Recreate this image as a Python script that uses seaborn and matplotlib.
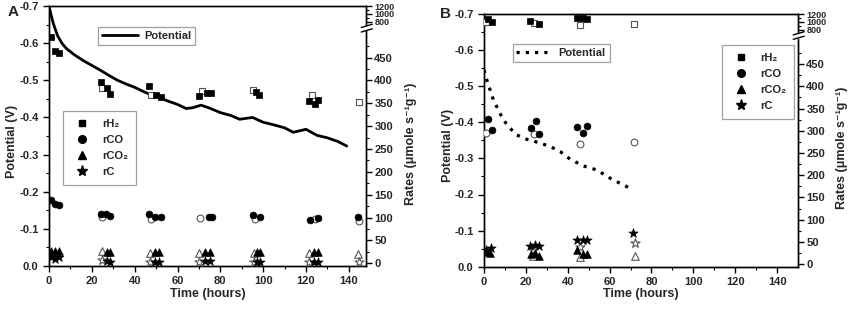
import numpy as np
import pandas as pd
import matplotlib
matplotlib.use("Agg")
import matplotlib.pyplot as plt
from matplotlib.lines import Line2D
import seaborn as sns

sns.set_theme(style="ticks")
plt.rcParams['font.family'] = ['Liberation Sans', 'DejaVu Sans']
plt.rcParams['font.weight'] = 'bold'
plt.rcParams['axes.labelweight'] = 'bold'
plt.rcParams['axes.unicode_minus'] = False

# ---------------- data: panel A ----------------
A_pot_t = [0, 1, 2, 4, 6, 8, 12, 16, 20, 24, 28, 32, 36, 40, 44, 48, 52, 56, 60, 64,
           67, 71, 75, 80, 85, 89, 95, 100, 105, 110, 114, 120, 125, 130, 135, 139]
A_pot_v = [-0.70, -0.675, -0.653, -0.62, -0.60, -0.586, -0.568, -0.553, -0.54, -0.527,
           -0.513, -0.50, -0.49, -0.481, -0.47, -0.46, -0.452, -0.443, -0.435, -0.424,
           -0.426, -0.433, -0.425, -0.413, -0.405, -0.395, -0.40, -0.387, -0.38, -0.372,
           -0.36, -0.368, -0.352, -0.345, -0.335, -0.323]

A_h2_t = [0.9, 2.8, 4.7, 24.3, 26.9, 28.5, 46.8, 49.8, 52.1, 70.1, 73.6, 75.6, 96.5, 98.1, 121.5, 124.1, 125.7]
A_h2_r = [496, 465, 460, 396, 384, 371, 387, 368, 363, 367, 372, 372, 374, 369, 355, 349, 358]
A_h2o_t = [24.6, 47.5, 71.3, 95.3, 122.6, 144.5]
A_h2o_r = [384, 368, 376, 379, 368, 352]

A_co_t = [0.9, 2.8, 4.7, 24.3, 26.6, 28.5, 46.8, 49.5, 52.1, 74.8, 76.2, 95.3, 98.5, 121.8, 125.7, 144.3]
A_co_r = [139, 130, 127, 108, 108, 103, 108, 101, 101, 101, 101, 106, 101, 95, 99, 101]
A_coo_t = [24.6, 47.5, 70.5, 96.1, 124.1, 144.7]
A_coo_r = [101, 96, 98, 96, 97.5, 92]

A_co2_t = [0.9, 2.8, 4.7, 27.0, 28.6, 49.5, 51.4, 72.8, 75.1, 97.2, 98.6, 123.5, 125.6]
A_co2_r = [26, 26, 27, 25, 25, 25, 25, 25, 25, 25, 25, 24, 24]
A_co2o_t = [24.6, 47.1, 70.2, 95.8, 121.3, 144.4]
A_co2o_r = [26, 22, 22, 22, 22, 21]

A_c_t = [0.9, 2.8, 4.7, 27.0, 28.5, 49.5, 51.4, 72.8, 75.1, 97.2, 98.6, 123.5, 125.6]
A_c_r = [14, 10, 13, 4, 3, 3, 3, 4, 4, 3, 3, 3, 2]
A_co_t_open_star = [24.6, 47.1, 70.2, 95.8, 121.5, 144.6]
A_co_r_open_star = [8, 3, 3, 3, 3, 2]

# ---------------- data: panel B ----------------
B_pot_t = [0, 1.3, 2.9, 4.5, 6.8, 9.2, 12.4, 15.6, 20.4, 26, 31.6, 36.4, 41.1, 47.5, 53.9, 60.3, 65, 70.6]
B_pot_v = [-0.545, -0.518, -0.49, -0.462, -0.435, -0.407, -0.384, -0.365, -0.353, -0.344,
           -0.333, -0.319, -0.298, -0.279, -0.268, -0.245, -0.231, -0.215]

B_h2_t = [1.8, 3.8, 22.0, 26.2, 44.6, 47.2, 49.1]
B_h2_r = [1060, 990, 1030, 950, 1100, 1085, 1070]
B_h2o_t = [1.0, 24.0, 45.9, 71.6]
B_h2o_r = [990, 960, 925, 945]

B_co_t = [2.1, 3.7, 22.5, 24.7, 26.4, 44.6, 47.2, 49.4]
B_co_r = [326, 301, 306, 321, 293, 308, 296, 310]
B_coo_t = [0.8, 23.9, 45.9, 71.8]
B_coo_r = [295, 292, 271, 274]

B_co2_t = [1.5, 3.0, 22.6, 24.4, 26.5, 44.6, 47.2, 49.4]
B_co2_r = [27, 24, 23, 24, 18, 32, 23, 23]
B_co2o_t = [23.6, 45.9, 71.9]
B_co2o_r = [18, 16, 18]

B_c_t = [1.0, 3.2, 22.0, 24.4, 26.5, 44.6, 47.2, 49.1, 71.4]
B_c_r = [32, 36, 41, 43, 41, 53, 53, 54, 69]
B_co_t_open_star = [23.6, 45.9, 71.9]
B_co_r_open_star = [32, 39, 47]

legend_labels = ['rH\u2082', 'rCO', 'rCO\u2082', 'rC']
left_ticks = [0.0, -0.1, -0.2, -0.3, -0.4, -0.5, -0.6, -0.7]
right_ticks = [0, 50, 100, 150, 200, 250, 300, 350, 400, 450, 800, 1000, 1200]
x_ticks = [0, 20, 40, 60, 80, 100, 120, 140]

# broken right axis scale
BP_DATA = np.array([-1000.0, 505.0, 800.0, 1200.0, 5000.0])
BP_FWD = np.array([-1000.0, 505.0, 528.0, 563.0, 563.0 + 3800 * 0.0875])
def fwd(y):
    return np.interp(y, BP_DATA, BP_FWD)
def inv(y):
    return np.interp(y, BP_FWD, BP_DATA)

W, H = 851, 309
fig = plt.figure(figsize=(W / 100, H / 100), dpi=100)

def box(l, r, t, b):
    return [l / W, 1 - b / H, (r - l) / W, (b - t) / H]

axA = fig.add_axes(box(49, 366, 6, 266))
axB = fig.add_axes(box(484, 798, 14, 266.7))

SQ, CI, TR, ST = 20, 24, 30, 48

def scatter(ax, t, r, marker, size, filled):
    df = pd.DataFrame({'t': t, 'r': r})
    if filled:
        sns.scatterplot(data=df, x='t', y='r', ax=ax, marker=marker, s=size,
                        color='black', edgecolor='black', linewidth=0.5, legend=False, zorder=4)
    else:
        sns.scatterplot(data=df, x='t', y='r', ax=ax, marker=marker, s=size,
                        facecolor='white', edgecolor='#555555', linewidth=0.8, legend=False, zorder=3)

def setup(ax, pot_t, pot_v, xmax, linestyle, series, pot_leg_anchor, mk_leg_anchor, lx, rx):
    lw = 2.0 if linestyle == '-' else 2.3
    sns.lineplot(x=pot_t, y=pot_v, ax=ax, color='black', linewidth=lw,
                 linestyle=linestyle, legend=False, sort=False)
    ax.set_xlim(0, xmax)
    ax.set_ylim(0, -0.7)
    ax.set_yticks(left_ticks)
    ax.set_yticklabels(['%.1f' % v if v != 0 else '0.0' for v in left_ticks])
    ax.set_yticks(np.arange(-0.05, -0.7, -0.1), minor=True)
    ax.set_xticks(x_ticks)
    ax.set_xticks(np.arange(10, xmax, 20), minor=True)
    ax.set_xlabel('Time (hours)', fontsize=9, fontweight='bold')
    ax.set_ylabel('Potential (V)', fontsize=9, fontweight='bold')
    ax.yaxis.set_label_coords(lx, 0.48)
    ax.xaxis.set_label_coords(0.5, -0.085)
    for s in ax.spines.values():
        s.set_linewidth(1.0)
        s.set_color('black')
    ax.tick_params(which='major', length=4, width=1, labelsize=8, color='black', direction='out')
    ax.tick_params(which='minor', length=2, width=0.8, color='black', direction='out')
    for lab in ax.get_xticklabels() + ax.get_yticklabels():
        lab.set_fontweight('bold')

    ax2 = ax.twinx()
    for (t, r, m, s, f) in series:
        scatter(ax2, t, r, m, s, f)
    ax2.set_yscale('function', functions=(fwd, inv))
    ax2.set_ylim(-6, 1200)
    ax2.set_yticks(right_ticks)
    ax2.set_yticklabels([str(v) for v in right_ticks])
    ax2.set_yticks(list(range(25, 501, 50)) + [900, 1100], minor=True)
    ax2.set_ylabel('Rates (\u03bcmole s\u207b\u00b9g\u207b\u00b9)', fontsize=9, fontweight='bold')
    ax2.yaxis.set_label_coords(rx, 0.47)
    ax2.tick_params(which='major', length=4, width=1, labelsize=8, color='black', direction='out', pad=2)
    ax2.tick_params(which='minor', length=2, width=0.8, color='black', direction='out')
    for lab, v in zip(ax2.get_yticklabels(), right_ticks):
        lab.set_fontweight('bold')
        if v >= 800:
            lab.set_fontsize(6.5)
    for s in ax2.spines.values():
        s.set_linewidth(1.0)
        s.set_color('black')
    tr = ax2.get_yaxis_transform()
    ax2.plot([1.0, 1.0], [590, 665], transform=tr, color='white', lw=2.5, clip_on=False, zorder=5)
    for y0, y1 in [(518, 608), (646, 736)]:
        ax2.plot([0.985, 1.02], [y0, y1], transform=tr, color='black', lw=1.0, clip_on=False, zorder=6)

    leg1 = ax2.legend([Line2D([], [], color='black', lw=lw, ls=linestyle)],
                      ['Potential'], loc='upper left', bbox_to_anchor=pot_leg_anchor,
                      frameon=True, fancybox=False, edgecolor='#888888', fontsize=8,
                      handlelength=3.2, borderpad=0.35, handletextpad=0.6, borderaxespad=0)
    leg1.get_frame().set_linewidth(0.9)
    for tx in leg1.get_texts():
        tx.set_fontweight('bold')
    ax2.add_artist(leg1)
    hs = [Line2D([], [], marker=m, color='black', ls='', markersize=ms)
          for m, ms in [('s', 5), ('o', 5.5), ('^', 6), ('*', 8)]]
    leg2 = ax2.legend(hs, legend_labels, loc='upper left', bbox_to_anchor=mk_leg_anchor,
                      frameon=True, fancybox=False, edgecolor='#888888', fontsize=8,
                      handlelength=2.0, borderpad=0.7, handletextpad=0.8, labelspacing=0.55,
                      borderaxespad=0)
    leg2.get_frame().set_linewidth(0.9)
    for tx in leg2.get_texts():
        tx.set_fontweight('bold')
    return ax2

seriesA = [
    (A_h2o_t, A_h2o_r, 's', SQ, False), (A_coo_t, A_coo_r, 'o', CI, False),
    (A_co2o_t, A_co2o_r, '^', TR, False), (A_co_t_open_star, A_co_r_open_star, '*', ST, False),
    (A_h2_t, A_h2_r, 's', SQ, True), (A_co_t, A_co_r, 'o', CI, True),
    (A_co2_t, A_co2_r, '^', TR, True), (A_c_t, A_c_r, '*', ST, True),
]
seriesB = [
    (B_h2o_t, B_h2o_r, 's', SQ, False), (B_coo_t, B_coo_r, 'o', CI, False),
    (B_co2o_t, B_co2o_r, '^', TR, False), (B_co_t_open_star, B_co_r_open_star, '*', ST, False),
    (B_h2_t, B_h2_r, 's', SQ, True), (B_co_t, B_co_r, 'o', CI, True),
    (B_co2_t, B_co2_r, '^', TR, True), (B_c_t, B_c_r, '*', ST, True),
]

setup(axA, A_pot_t, A_pot_v, 148, '-', seriesA, (0.155, 0.92), (0.044, 0.596), -0.098, 1.122)
setup(axB, B_pot_t, B_pot_v, 150, (0, (1, 1.9)), seriesB, (0.091, 0.881), (0.757, 0.878), -0.096, 1.12)

fig.text(8 / W, 1 - 12 / H, 'A', fontsize=11, fontweight='bold', ha='left', va='center')
fig.text(440 / W, 1 - 14 / H, 'B', fontsize=11, fontweight='bold', ha='left', va='center')

fig.savefig('out.png', dpi=100)
